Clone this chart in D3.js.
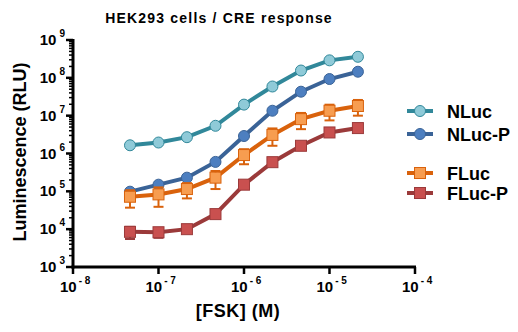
<!DOCTYPE html>
<html>
<head>
<meta charset="utf-8">
<script src="https://cdn.jsdelivr.net/npm/d3@7"></script>
<style>
  body { margin: 0; background: #fff; }
  text { font-family: Arial, "Liberation Sans", sans-serif; font-weight: bold; }
</style>
</head>
<body>
<div id="chart"></div>
<script>
// concentrations (M), 1/3-log steps
var conc = [4.64e-8, 1e-7, 2.15e-7, 4.64e-7, 1e-6, 2.15e-6, 4.64e-6, 1e-5, 2.15e-5];

var nluc = [1.65e6, 1.95e6, 2.7e6, 5.4e6, 1.96e7, 5.9e7, 1.56e8, 2.9e8, 3.6e8];
var nlucP = [9.8e4, 1.5e5, 2.3e5, 6.0e5, 2.9e6, 1.35e7, 4.3e7, 9.3e7, 1.45e8];
var fluc = [7.2e4, 8.3e4, 1.15e5, 2.3e5, 9.1e5, 3.1e6, 8.1e6, 1.35e7, 1.8e7];
var flucErr = [3.5e4, 4.4e4, 5e4, 1.15e5, 3.9e5, 1.5e6, 3.7e6, 6e6, 8e6];
var flucP = [8.5e3, 8.3e3, 1.0e4, 2.5e4, 1.5e5, 5.9e5, 1.6e6, 3.6e6, 4.7e6];
var flucPErr = [3e3, 2.4e3, 1.5e3, 0, 0, 0, 0, 0, 0];

var xTicks = [-8, -7, -6, -5, -4];
var yTicks = [3, 4, 5, 6, 7, 8, 9];

var series = [
  { name: "NLuc", values: nluc, err: null, shape: "circle", line: "#31889a", fill: "#8fcad8", legendY: 111 },
  { name: "NLuc-P", values: nlucP, err: null, shape: "circle", line: "#3a6397", fill: "#4d7fc0", legendY: 134 },
  { name: "FLuc", values: fluc, err: flucErr, shape: "square", line: "#d9620c", fill: "#f79d50", legendY: 173 },
  { name: "FLuc-P", values: flucP, err: flucPErr, shape: "square", line: "#9b3a3a", fill: "#c9504f", legendY: 193 }
];

var W = 518, H = 332;
var svg = d3.select("#chart").append("svg")
    .attr("width", W)
    .attr("height", H);

var x = d3.scaleLog().domain([1e-8, 1e-4]).range([73, 415]);
var y = d3.scaleLog().domain([1e3, 1e9]).range([267, 40]);

// title
svg.append("text")
    .attr("x", 219)
    .attr("y", 23)
    .attr("text-anchor", "middle")
    .style("font-size", "14px")
    .style("letter-spacing", "1.2px")
    .text("HEK293 cells / CRE response");

// y axis with minor ticks
var yMinor = [];
for (var e = 3; e < 9; e++) {
  for (var m = 2; m <= 9; m++) yMinor.push(m * Math.pow(10, e));
}
var yAxis = svg.append("g").attr("transform", "translate(73,0)");
yAxis.selectAll("line.minor").data(yMinor).enter().append("line")
    .attr("x1", -4).attr("x2", 0)
    .attr("y1", d => y(d)).attr("y2", d => y(d))
    .attr("stroke", "#000").attr("stroke-width", 1.5);
yAxis.selectAll("line.major").data(yTicks).enter().append("line")
    .attr("x1", -7).attr("x2", 0)
    .attr("y1", d => y(Math.pow(10, d))).attr("y2", d => y(Math.pow(10, d)))
    .attr("stroke", "#000").attr("stroke-width", 2.5);
yAxis.append("line")
    .attr("x1", 0).attr("x2", 0)
    .attr("y1", y(1e3) + 1.5).attr("y2", y(1e9) - 1)
    .attr("stroke", "#000").attr("stroke-width", 3);

var yLab = yAxis.selectAll("text.tick").data(yTicks).enter().append("text")
    .attr("x", -8)
    .attr("y", d => y(Math.pow(10, d)) + 5)
    .attr("text-anchor", "end")
    .style("font-size", "15px");
yLab.append("tspan").text("10");
yLab.append("tspan").attr("dx", 3).attr("dy", -8).style("font-size", "10px").text(d => d);

// x axis
var xAxis = svg.append("g").attr("transform", "translate(0,267)");
xAxis.append("line")
    .attr("x1", 71.5).attr("x2", 416)
    .attr("stroke", "#000").attr("stroke-width", 3);
xAxis.selectAll("line.major").data(xTicks).enter().append("line")
    .attr("x1", d => x(Math.pow(10, d))).attr("x2", d => x(Math.pow(10, d)))
    .attr("y1", 0).attr("y2", 7)
    .attr("stroke", "#000").attr("stroke-width", 2.5);
var xLab = xAxis.selectAll("text.tick").data(xTicks).enter().append("text")
    .attr("x", d => x(Math.pow(10, d)) - 13)
    .attr("y", 25)
    .attr("text-anchor", "start")
    .style("font-size", "15px");
xLab.append("tspan").text("10");
xLab.append("tspan").attr("dx", 2).attr("dy", -8).style("font-size", "10px").text(d => "- " + (-d));

// axis titles
svg.append("text")
    .attr("x", 238)
    .attr("y", 317)
    .attr("text-anchor", "middle")
    .style("font-size", "18px")
    .style("letter-spacing", "0.5px")
    .text("[FSK] (M)");
svg.append("text")
    .attr("transform", "translate(26,152) rotate(-90)")
    .attr("text-anchor", "middle")
    .style("font-size", "18px")
    .text("Luminescence (RLU)");

// series
var line = d3.line()
    .x(d => x(d[0]))
    .y(d => y(d[1]));

function marker(g, s, cx, cy) {
  if (s.shape === "circle") {
    g.append("circle")
        .attr("cx", cx).attr("cy", cy).attr("r", 5.5)
        .attr("fill", s.fill).attr("stroke", s.line).attr("stroke-width", 1);
  } else {
    g.append("rect")
        .attr("x", cx - 5.5).attr("y", cy - 5.5)
        .attr("width", 11).attr("height", 11)
        .attr("fill", s.fill).attr("stroke", s.line).attr("stroke-width", 1);
  }
}

series.forEach(function(s) {
  var pts = conc.map((c, i) => [c, s.values[i]]);
  var g = svg.append("g");

  g.append("path")
      .datum(pts)
      .attr("d", line)
      .attr("fill", "none")
      .attr("stroke", s.line)
      .attr("stroke-width", 4);

  if (s.err) {
    conc.forEach(function(c, i) {
      var e = s.err[i];
      if (!e) return;
      var cx = x(c);
      var y1 = y(s.values[i] + e), y0 = y(Math.max(s.values[i] - e, 1e3));
      g.append("line").attr("x1", cx).attr("x2", cx).attr("y1", y1).attr("y2", y0)
          .attr("stroke", s.line).attr("stroke-width", 2);
      [y1, y0].forEach(function(yy) {
        g.append("line").attr("x1", cx - 5).attr("x2", cx + 5).attr("y1", yy).attr("y2", yy)
            .attr("stroke", s.line).attr("stroke-width", 2);
      });
    });
  }

  pts.forEach(function(p) { marker(g, s, x(p[0]), y(p[1])); });

  // legend
  var lg = svg.append("g");
  lg.append("line")
      .attr("x1", 407).attr("x2", 433)
      .attr("y1", s.legendY).attr("y2", s.legendY)
      .attr("stroke", s.line).attr("stroke-width", 4);
  marker(lg, s, 420, s.legendY);
  lg.append("text")
      .attr("x", 447)
      .attr("y", s.legendY + 7)
      .style("font-size", "18px")
      .text(s.name);
});
</script>
</body>
</html>
